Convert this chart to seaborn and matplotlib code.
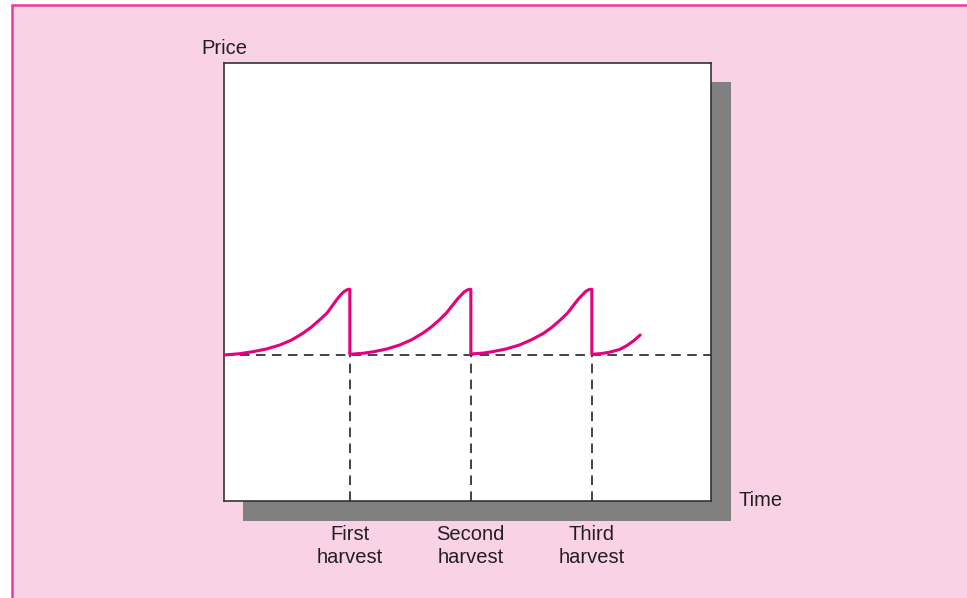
import matplotlib
matplotlib.use("Agg")
import matplotlib.pyplot as plt
from matplotlib.patches import Rectangle
import seaborn as sns
import pandas as pd

# price path (time in harvest periods, price relative)
cycle1_time = [-0.04, 0.09, 0.20, 0.31, 0.42, 0.52, 0.61, 0.68, 0.75, 0.81, 0.85, 0.89, 0.92, 0.945, 0.97, 0.99, 1.0]
cycle1_price = [1.0, 1.009, 1.023, 1.041, 1.068, 1.103, 1.148, 1.19, 1.24, 1.286, 1.331, 1.377, 1.408, 1.43, 1.444, 1.45, 1.45]
cycle2_time = [1.0, 1.0, 1.11, 1.2, 1.31, 1.41, 1.51, 1.6, 1.67, 1.74, 1.8, 1.85, 1.89, 1.92, 1.945, 1.97, 1.99, 2.0]
cycle2_price = [1.45, 1.005, 1.012, 1.023, 1.042, 1.068, 1.104, 1.148, 1.19, 1.24, 1.29, 1.342, 1.384, 1.41, 1.432, 1.445, 1.45, 1.45]
cycle3_time = [2.0, 2.0, 2.1, 2.18, 2.29, 2.4, 2.5, 2.6, 2.67, 2.74, 2.8, 2.85, 2.89, 2.92, 2.945, 2.97, 2.99, 3.0]
cycle3_price = [1.45, 1.007, 1.013, 1.023, 1.041, 1.068, 1.104, 1.148, 1.19, 1.24, 1.288, 1.342, 1.384, 1.41, 1.432, 1.446, 1.45, 1.45]
cycle4_time = [3.0, 3.0, 3.08, 3.15, 3.23, 3.29, 3.35, 3.4]
cycle4_price = [1.45, 1.005, 1.01, 1.02, 1.038, 1.065, 1.1, 1.137]

harvest_time = [1, 2, 3]
harvest_labels = ["First\nharvest", "Second\nharvest", "Third\nharvest"]
base_price = 1.0

df = pd.DataFrame({
    "time": cycle1_time + cycle2_time + cycle3_time + cycle4_time,
    "price": cycle1_price + cycle2_price + cycle3_price + cycle4_price,
})

sns.set_style("white")
plt.rcParams["font.family"] = ["Liberation Sans", "DejaVu Sans"]

W, H = 967, 598
fig = plt.figure(figsize=(W / 100, H / 100), dpi=100, facecolor="white")

# pink panel with border on top / left
fig.add_artist(Rectangle((12 / W, -0.05), 1.0, (H - 5) / H + 0.05, transform=fig.transFigure,
                         facecolor="#F9D3E5", edgecolor="#EC3C9B", linewidth=1.8, zorder=-3))
# drop shadow behind the plot box
fig.add_artist(Rectangle((243 / W, (H - 521) / H), 488 / W, 439 / H, transform=fig.transFigure,
                         facecolor="#808080", edgecolor="none", zorder=-1))

ax = fig.add_axes([224 / W, (H - 501) / H, 487 / W, 438 / H])
ax.set_facecolor("white")

dash = (0, (6, 4))
ax.axhline(base_price, color="#1a1a1a", linewidth=1.15, linestyle=dash, zorder=1)
ax.vlines(harvest_time, 0, base_price, colors="#1a1a1a", linewidth=1.15, linestyles=[dash], zorder=1)

sns.lineplot(data=df, x="time", y="price", estimator=None, sort=False,
             color="#E6007E", linewidth=2.2, ax=ax, zorder=3,
             solid_joinstyle="round", solid_capstyle="round")

ax.set_xlim(-0.04, 3.985)
ax.set_ylim(0, 3)
ax.set_xticks(harvest_time)
ax.set_xticklabels(harvest_labels, fontsize=14.5, color="#231F20", linespacing=1.3)
ax.set_yticks([])
ax.tick_params(axis="x", length=0, pad=17)
ax.set_xlabel("")
ax.set_ylabel("")
for s in ax.spines.values():
    s.set_color("#333333")
    s.set_linewidth(1.2)

ax.text(-0.047, 1.034, "Price", transform=ax.transAxes, ha="left", va="center",
        fontsize=14.5, color="#231F20")
ax.text(1.057, 0.0, "Time", transform=ax.transAxes, ha="left", va="center",
        fontsize=14.5, color="#231F20")

fig.savefig("out.png", dpi=100, facecolor=fig.get_facecolor())
